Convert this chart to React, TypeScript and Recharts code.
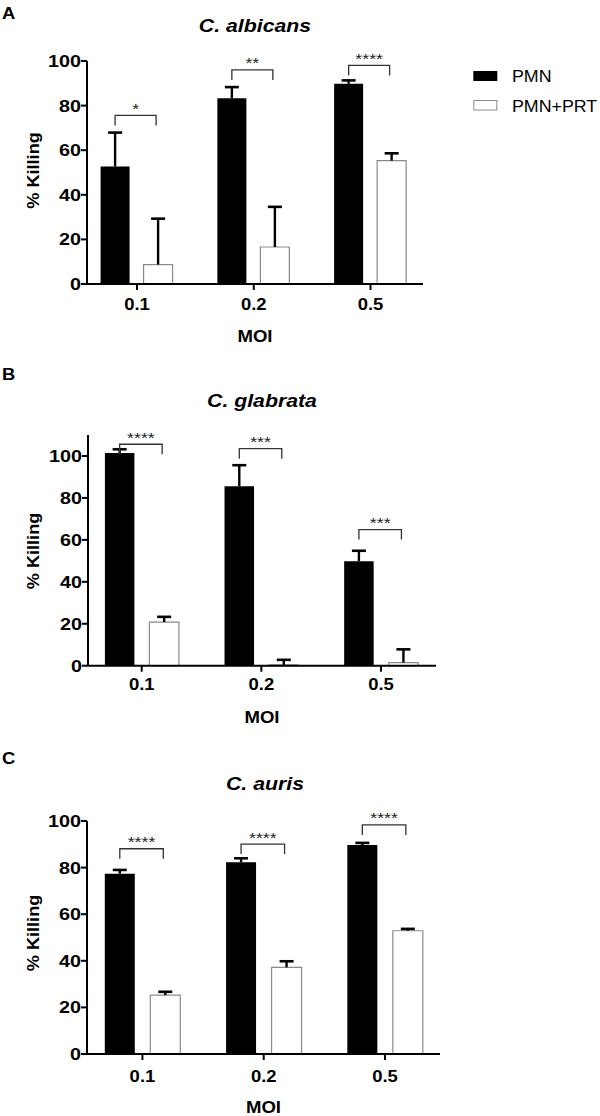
import React from 'react';
import { BarChart, Bar, XAxis, YAxis, Legend, LabelList } from 'recharts';

const categories = ['0.1', '0.2', '0.5'];

const albicansPMN = [52.7, 83.3, 89.8];
const albicansPMNErr = [15.2, 5.0, 1.5];
const albicansPRT = [8.7, 16.6, 55.3];
const albicansPRTErr = [20.6, 18.0, 3.3];
const albicansBracket = [75.6, 96.0, 98.0];
const albicansStars = ['*', '**', '****'];

const glabrataPMN = [101.4, 85.6, 49.8];
const glabrataPMNErr = [1.8, 10.0, 5.0];
const glabrataPRT = [20.8, 0.4, 1.5];
const glabrataPRTErr = [2.5, 2.4, 6.3];
const glabrataBracket = [105.6, 103.5, 64.9];
const glabrataStars = ['****', '***', '***'];

const aurisPMN = [77.4, 82.3, 89.7];
const aurisPMNErr = [1.6, 1.7, 0.9];
const aurisPRT = [25.3, 37.2, 52.9];
const aurisPRTErr = [1.4, 2.6, 0.8];
const aurisBracket = [88.1, 90.1, 98.3];
const aurisStars = ['****', '****', '****'];

const yTicks = [0, 20, 40, 60, 80, 100];
const seriesNames = ['PMN', 'PMN+PRT'];
const panelLetters = ['A', 'B', 'C'];
const panelTitles = ['C. albicans', 'C. glabrata', 'C. auris'];
const xAxisTitle = 'MOI';
const yAxisTitle = '% Killing';

const FONT = '"Liberation Sans", Arial, Helvetica, sans-serif';

type Row = {
  moi: string;
  pmn: number;
  pmnErr: number;
  prt: number;
  prtErr: number;
  bracket: number;
  stars: string;
};

function buildRows(pmn: number[], pmnErr: number[], prt: number[], prtErr: number[], bracket: number[], stars: string[]): Row[] {
  return categories.map((c, i) => ({
    moi: c,
    pmn: pmn[i],
    pmnErr: pmnErr[i],
    prt: prt[i],
    prtErr: prtErr[i],
    bracket: bracket[i],
    stars: stars[i],
  }));
}

const rowsA = buildRows(albicansPMN, albicansPMNErr, albicansPRT, albicansPRTErr, albicansBracket, albicansStars);
const rowsB = buildRows(glabrataPMN, glabrataPMNErr, glabrataPRT, glabrataPRTErr, glabrataBracket, glabrataStars);
const rowsC = buildRows(aurisPMN, aurisPMNErr, aurisPRT, aurisPRTErr, aurisBracket, aurisStars);

function makeAnnotation(rows: Row[], gap: number) {
  return function Annotation(props: any) {
    const vb = props.viewBox && typeof props.viewBox.x === 'number' ? props.viewBox : props;
    const x = Number(vb.x);
    const y = Number(vb.y);
    const w = Number(vb.width);
    const h = Number(vb.height);
    const r = rows[props.index];
    if (!r || !isFinite(x) || !isFinite(y) || !isFinite(h)) return null;
    const top = Math.min(y, y + h);
    const bottom = Math.max(y, y + h);
    const k = (bottom - top) / r.pmn;
    const toY = (v: number) => bottom - v * k;
    const cx1 = x + w / 2;
    const cx2 = x + w * 1.5 + gap;
    const by = toY(r.bracket);
    const whisker = (cx: number, v: number, e: number, key: string) => {
      const y0 = toY(v);
      const y1 = toY(v + e);
      return (
        <g key={key}>
          <line x1={cx} x2={cx} y1={y0} y2={y1} stroke="#000" strokeWidth={2.4} />
          <line x1={cx - 7} x2={cx + 7} y1={y1} y2={y1} stroke="#000" strokeWidth={2.6} />
        </g>
      );
    };
    return (
      <g>
        {whisker(cx1, r.pmn, r.pmnErr, 'a')}
        {whisker(cx2, r.prt, r.prtErr, 'b')}
        <path
          d={`M${cx1},${by + 10} V${by} H${cx2 - 2} V${by + 10}`}
          fill="none"
          stroke="#333"
          strokeWidth={1.3}
        />
        <text
          transform={`translate(${(cx1 + cx2 - 2) / 2},${by - 1.5}) scale(1.15,1)`}
          textAnchor="middle"
          fontFamily={FONT}
          fontSize={15.5}
          fill="#222"
        >
          {r.stars}
        </text>
      </g>
    );
  };
}

const YTick = (props: any) => {
  const { x, y, payload } = props;
  return (
    <text
      transform={`translate(${x},${y}) scale(1.2,1)`}
      textAnchor="end"
      dy="0.36em"
      fontFamily={FONT}
      fontWeight="bold"
      fontSize={16.5}
      fill="#000"
    >
      {payload.value}
    </text>
  );
};

function makeXTick(dy: number) {
  return function XTick(props: any) {
    const { x, y, payload } = props;
    return (
      <text
        transform={`translate(${x},${y + dy}) scale(1.12,1)`}
        textAnchor="middle"
        fontFamily={FONT}
        fontWeight="bold"
        fontSize={16.5}
        fill="#000"
      >
        {payload.value}
      </text>
    );
  };
}

const LegendContent = () => (
  <svg width={130} height={52} style={{ display: 'block' }}>
    <rect x={3.3} y={6} width={24} height={10} fill="#000" />
    <rect x={3.8} y={35.5} width={23} height={9.5} fill="#fff" stroke="#8a8a8a" strokeWidth={1} />
    <text
      transform="translate(42,17.3) scale(1.08,1)"
      fontFamily={FONT}
      fontSize={16.5}
      fill="#000"
    >
      {seriesNames[0]}
    </text>
    <text
      transform="translate(42,46.7) scale(1.08,1)"
      fontFamily={FONT}
      fontSize={16.5}
      fill="#000"
    >
      {seriesNames[1]}
    </text>
  </svg>
);

type PanelProps = {
  rows: Row[];
  top: number;
  height: number;
  plotTop: number;
  plotBottom: number;
  yAxisX: number;
  xAxisEnd: number;
  domainMax: number;
  padLeft: number;
  padRight: number;
  barSize: number;
  barGap: number;
  tickDy: number;
  withLegend?: boolean;
};

function Panel(p: PanelProps) {
  const xAxisHeight = 40;
  const marginBottom = p.height - p.plotBottom - xAxisHeight;
  const annotation = makeAnnotation(p.rows, p.barGap);
  const XTick = makeXTick(p.tickDy);
  return (
    <div style={{ position: 'absolute', left: 0, top: p.top, width: 600, height: p.height }}>
      <BarChart
        width={600}
        height={p.height}
        data={p.rows}
        margin={{ top: p.plotTop, right: 600 - p.xAxisEnd, bottom: marginBottom, left: 0 }}
        barSize={p.barSize}
        barGap={p.barGap}
      >
        <XAxis
          dataKey="moi"
          height={xAxisHeight}
          padding={{ left: p.padLeft, right: p.padRight }}
          axisLine={{ stroke: '#000', strokeWidth: 2 }}
          tickLine={{ stroke: '#000', strokeWidth: 2 }}
          tickSize={6}
          tickMargin={0}
          tick={XTick}
          interval={0}
        />
        <YAxis
          width={p.yAxisX}
          domain={[0, p.domainMax]}
          ticks={yTicks}
          allowDecimals={false}
          axisLine={{ stroke: '#000', strokeWidth: 2 }}
          tickLine={{ stroke: '#000', strokeWidth: 2 }}
          tickSize={6}
          tickMargin={0}
          tick={YTick}
          interval={0}
        />
        {p.withLegend ? (
          <Legend
            layout="vertical"
            align="center"
            verticalAlign="middle"
            content={LegendContent}
            wrapperStyle={{ position: 'absolute', left: 470, top: 65, width: 130, height: 52 }}
          />
        ) : null}
        <Bar dataKey="pmn" name={seriesNames[0]} fill="#000" isAnimationActive={false}>
          <LabelList dataKey="pmn" content={annotation} />
        </Bar>
        <Bar
          dataKey="prt"
          name={seriesNames[1]}
          fill="#fff"
          stroke="#8a8a8a"
          strokeWidth={1.2}
          isAnimationActive={false}
        />
      </BarChart>
    </div>
  );
}

const titleCenters = [255, 262, 265];
const titleBaselines = [31.7, 407, 790];
const letterBaselines = [18.5, 380.3, 763.5];
const yLabelCenters = [170.5, 551, 933];
const moiCenters = [255, 262, 263.5];
const moiBaselines = [342, 723, 1113];

export default function App() {
  return (
    <div
      style={{
        position: 'absolute',
        left: 0,
        top: 0,
        width: 600,
        height: 1116,
        background: '#fff',
        overflow: 'hidden',
      }}
    >
      <Panel
        rows={rowsA}
        top={0}
        height={360}
        plotTop={61}
        plotBottom={284}
        yAxisX={87}
        xAxisEnd={423}
        domainMax={100}
        padLeft={-8.4}
        padRight={-5.9}
        barSize={29}
        barGap={14}
        tickDy={20}
        withLegend
      />
      <Panel
        rows={rowsB}
        top={360}
        height={380}
        plotTop={75}
        plotBottom={305.7}
        yAxisX={88}
        xAxisEnd={436}
        domainMax={110}
        padLeft={-6.1}
        padRight={-4.8}
        barSize={29.5}
        barGap={15}
        tickDy={18.3}
        withLegend={false}
      />
      <Panel
        rows={rowsC}
        top={740}
        height={376}
        plotTop={81}
        plotBottom={314}
        yAxisX={87}
        xAxisEnd={440}
        domainMax={100}
        padLeft={-5.2}
        padRight={-5.6}
        barSize={30}
        barGap={15.5}
        tickDy={21.7}
        withLegend={false}
      />
      <svg
        width={600}
        height={1116}
        style={{ position: 'absolute', left: 0, top: 0, pointerEvents: 'none' }}
      >
        {panelLetters.map((l, i) => (
          <text
            key={'l' + i}
            transform={`translate(2,${letterBaselines[i]}) scale(1.15,1)`}
            fontFamily={FONT}
            fontWeight="bold"
            fontSize={16}
            fill="#000"
          >
            {l}
          </text>
        ))}
        {panelTitles.map((t, i) => (
          <text
            key={'t' + i}
            transform={`translate(${titleCenters[i]},${titleBaselines[i]}) scale(1.15,1)`}
            textAnchor="middle"
            fontFamily={FONT}
            fontWeight="bold"
            fontStyle="italic"
            fontSize={18.5}
            fill="#000"
          >
            {t}
          </text>
        ))}
        {yLabelCenters.map((c, i) => (
          <text
            key={'y' + i}
            transform={`translate(38.8,${c}) rotate(-90) scale(1.1,1)`}
            textAnchor="middle"
            fontFamily={FONT}
            fontWeight="bold"
            fontSize={16.5}
            fill="#000"
          >
            {yAxisTitle}
          </text>
        ))}
        {moiCenters.map((c, i) => (
          <text
            key={'m' + i}
            transform={`translate(${c},${moiBaselines[i]}) scale(1.14,1)`}
            textAnchor="middle"
            fontFamily={FONT}
            fontWeight="bold"
            fontSize={16.3}
            fill="#000"
          >
            {xAxisTitle}
          </text>
        ))}
      </svg>
    </div>
  );
}
